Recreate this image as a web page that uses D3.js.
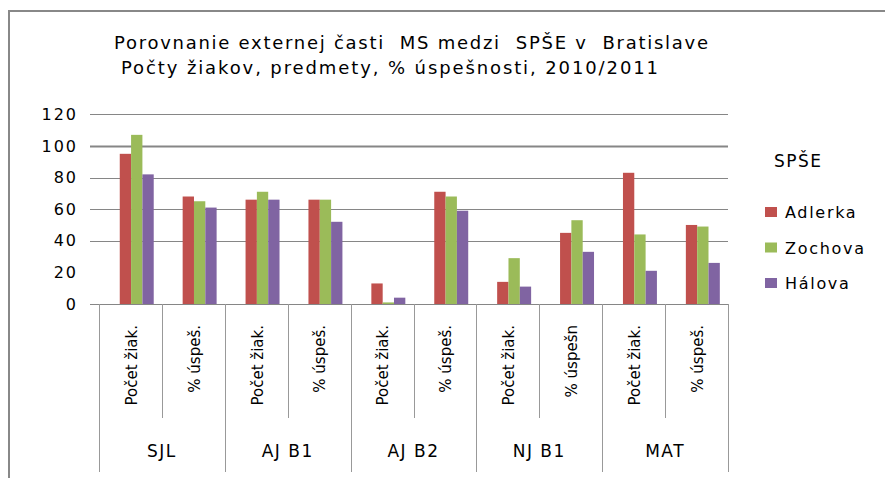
<!DOCTYPE html>
<html>
<head>
<meta charset="utf-8">
<script src="https://cdn.jsdelivr.net/npm/d3@7/dist/d3.min.js"></script>
<style>
  body { margin: 0; background: #fff; }
  text { font-family: "DejaVu Sans", sans-serif; fill: #000; white-space: pre; }
</style>
</head>
<body>
<div id="container"></div>
<script>
// data
var groups = ["SJL", "AJ B1", "AJ B2", "NJ B1", "MAT"];
var columns = ["Počet žiak.", "% úspeš.", "Počet žiak.", "% úspeš.", "Počet žiak.", "% úspeš.",
               "Počet žiak.", "% úspešn", "Počet žiak.", "% úspeš."];
var series = ["Adlerka", "Zochova", "Hálova"];
var adlerka = [95, 68, 66, 66, 13, 71, 14, 45, 83, 50];
var zochova = [107, 65, 71, 66, 1, 68, 29, 53, 44, 49];
var halova  = [82, 61, 66, 52, 4, 59, 11, 33, 21, 26];
var colors = ["#C0504D", "#9BBB59", "#8064A2"];
var yTicks = [0, 20, 40, 60, 80, 100, 120];
var titleLines = ["Porovnanie externej časti  MS medzi  SPŠE v  Bratislave",
                  "Počty žiakov, predmety, % úspešnosti, 2010/2011"];
var legendTitle = "SPŠE";

var values = [adlerka, zochova, halova];

const width = 885;
const height = 478;
var plot = {left: 99, right: 728, top: 114.3, bottom: 304};

const svg = d3.select("#container")
    .append("svg")
        .attr("width", width)
        .attr("height", height);

svg.append("rect").attr("width", width).attr("height", height).attr("fill", "#fff");

// chart frame (only top and left edges show)
svg.append("path")
    .attr("d", "M9," + height + "V11H" + width)
    .attr("fill", "none")
    .attr("stroke", "#888")
    .attr("stroke-width", 2);

// title
svg.selectAll(".title")
    .data(titleLines)
    .join("text")
    .attr("class", "title")
    .attr("x", (d, i) => i == 0 ? 114 : 121)
    .attr("y", (d, i) => i == 0 ? 49 : 74)
    .attr("font-size", 18)
    .attr("textLength", (d, i) => i == 0 ? 594 : 537)
    .attr("lengthAdjust", "spacing")
    .text(d => d);

const x = d3.scaleBand()
    .domain(d3.range(columns.length))
    .range([plot.left, plot.right]);

// bars sit right of the band centre, like in the original
const xs = d3.scaleBand()
    .domain(series)
    .range([x.bandwidth() * 0.33, x.bandwidth() * 0.87]);

const y = d3.scaleLinear()
    .domain([0, 120])
    .range([plot.bottom, plot.top]);

// gridlines (the 20 line is not visible in the picture)
svg.append("g")
    .selectAll("line")
    .data(yTicks.filter(d => d != 20))
    .join("line")
    .attr("x1", plot.left - 9)
    .attr("x2", plot.right)
    .attr("y1", d => Math.round(y(d)) + 0.5)
    .attr("y2", d => Math.round(y(d)) + 0.5)
    .attr("stroke", "#868686")
    .attr("stroke-width", d => d == 100 ? 2 : 1);

// y axis labels
const yAxis = svg.append("g")
    .attr("transform", "translate(" + plot.left + ",0)")
    .call(d3.axisLeft(y).tickValues(yTicks).tickSize(0).tickPadding(21));
yAxis.select(".domain").remove();
yAxis.selectAll("text")
    .attr("font-family", "DejaVu Sans")
    .attr("font-size", 16)
    .attr("letter-spacing", 2)
    .attr("fill", "#000");

// bars
svg.append("g")
    .selectAll("g")
    .data(series)
    .join("g")
    .attr("fill", (d, i) => colors[i])
    .selectAll("rect")
    .data((s, si) => values[si].map((v, ci) => ({s: s, ci: ci, v: v})))
    .join("rect")
    .attr("x", d => x(d.ci) + xs(d.s))
    .attr("y", d => y(d.v))
    .attr("width", xs.bandwidth())
    .attr("height", d => y(0) - y(d.v));

// category axis: column dividers, group dividers, labels
const cat = svg.append("g");
var colEdges = d3.range(columns.length + 1).map(i => plot.left + i * x.bandwidth());

cat.selectAll(".div")
    .data(colEdges)
    .join("line")
    .attr("x1", d => Math.round(d) + 0.5)
    .attr("x2", d => Math.round(d) + 0.5)
    .attr("y1", plot.bottom)
    .attr("y2", (d, i) => i % 2 == 0 ? 472 : 418)
    .attr("stroke", "#999")
    .attr("stroke-width", 1);

cat.selectAll(".col")
    .data(columns)
    .join("text")
    .attr("transform", (d, i) => "translate(" + (x(i) + x.bandwidth() / 2 + 1) + ",325)rotate(-90)")
    .attr("dy", "0.35em")
    .attr("text-anchor", "end")
    .attr("font-size", 15)
    .text(d => d);

cat.selectAll(".grp")
    .data(groups)
    .join("text")
    .attr("x", (d, i) => x(i * 2) + x.bandwidth())
    .attr("y", 457)
    .attr("text-anchor", "middle")
    .attr("font-size", 17)
    .attr("letter-spacing", 1.5)
    .text(d => d);

// legend
const legend = svg.append("g");
legend.append("text")
    .attr("x", 774)
    .attr("y", 167)
    .attr("font-size", 17)
    .attr("letter-spacing", 1.5)
    .text(legendTitle);

const items = legend.selectAll(".item")
    .data(series)
    .join("g")
    .attr("transform", (d, i) => "translate(765," + (218 + i * 35.5) + ")");
items.append("rect")
    .attr("y", -11)
    .attr("width", 12)
    .attr("height", 10)
    .attr("fill", (d, i) => colors[i]);
items.append("text")
    .attr("x", 20)
    .attr("font-size", 16)
    .attr("letter-spacing", 1.7)
    .text(d => d);
</script>
</body>
</html>
